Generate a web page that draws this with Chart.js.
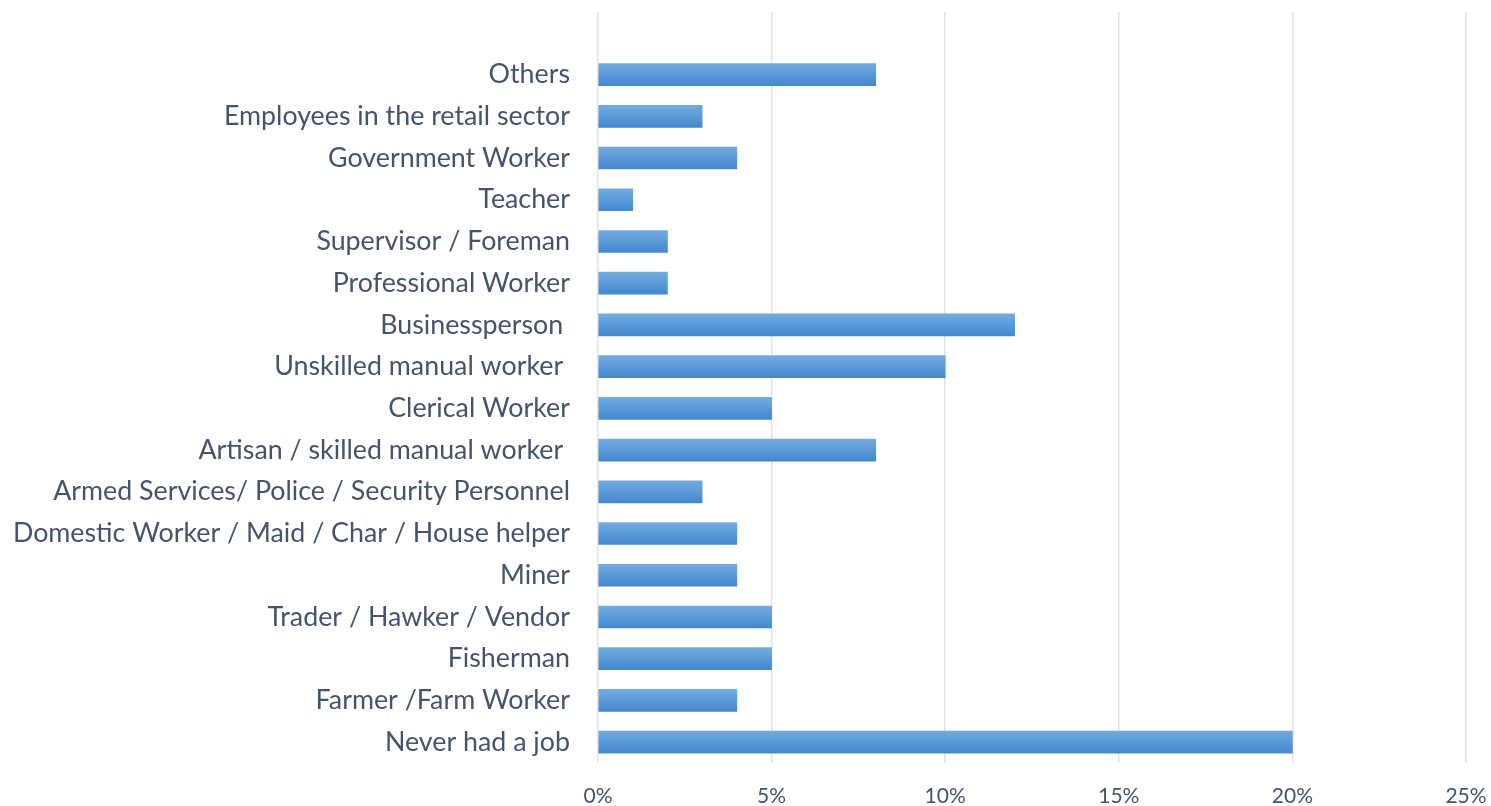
<!DOCTYPE html>
<html>
<head>
<meta charset="utf-8">
<script src="https://cdn.jsdelivr.net/npm/chart.js@4/dist/chart.umd.min.js"></script>
<style>
  html, body { margin: 0; padding: 0; background: #fff; }
  #wrap { width: 1491px; height: 806px; }
</style>
</head>
<body>
<div id="wrap"><canvas id="c" width="1491" height="806"></canvas></div>
<script>
// Occupation categories, top to bottom (first entry is the empty top band)
const categories = [
  "",
  "Others",
  "Employees in the retail sector",
  "Government Worker",
  "Teacher",
  "Supervisor / Foreman",
  "Professional Worker",
  "Businessperson ",
  "Unskilled manual worker ",
  "Clerical Worker",
  "Artisan / skilled manual worker ",
  "Armed Services/ Police / Security Personnel",
  "Domestic Worker / Maid / Char / House helper",
  "Miner",
  "Trader / Hawker / Vendor",
  "Fisherman",
  "Farmer /Farm Worker",
  "Never had a job"
];

// Share of respondents, in percent
const shares = [null, 8, 3, 4, 1, 2, 2, 12, 10, 5, 8, 3, 4, 4, 5, 5, 4, 20];

const xTicks = [0, 5, 10, 15, 20, 25];

const BAR_THICKNESS = 22;
const textColor = "#44546A";

function barFill(ctx) {
  const chart = ctx.chart;
  const yScale = chart.scales.y;
  if (!yScale || ctx.dataIndex === undefined) return "#5b9bd5";
  const cy = yScale.getPixelForValue(ctx.dataIndex);
  if (!isFinite(cy)) return "#5b9bd5";
  const g = chart.ctx.createLinearGradient(0, cy - BAR_THICKNESS / 2, 0, cy + BAR_THICKNESS / 2);
  g.addColorStop(0, "#72abe0");
  g.addColorStop(1, "#4588cf");
  return g;
}

new Chart(document.getElementById("c"), {
  type: "bar",
  data: {
    labels: categories,
    datasets: [{
      data: shares,
      backgroundColor: barFill,
      borderWidth: 0,
      barThickness: BAR_THICKNESS
    }]
  },
  options: {
    indexAxis: "y",
    responsive: false,
    animation: false,
    layout: { padding: { top: 12, right: 25, left: 0, bottom: 0 } },
    plugins: { legend: { display: false }, tooltip: { enabled: false } },
    scales: {
      x: {
        min: 0,
        max: 25,
        afterBuildTicks: (scale) => { scale.ticks = xTicks.map(v => ({ value: v })); },
        afterFit: (scale) => {
          scale.height = 43;
          scale.paddingLeft = 0;
          scale.paddingRight = 0;
        },
        ticks: {
          callback: (v) => v + "%",
          color: textColor,
          font: { family: "Lato", size: 21 },
          padding: 21
        },
        grid: { color: "#dfe4ec", lineWidth: 1.5, drawTicks: false },
        border: { display: false }
      },
      y: {
        afterFit: (scale) => {
          scale.width = 598;
          scale.paddingTop = 0;
          scale.paddingBottom = 0;
        },
        ticks: {
          color: textColor,
          font: { family: "Lato", size: 26.8 },
          padding: 28,
          autoSkip: false
        },
        grid: { display: false, drawTicks: false },
        border: { display: false }
      }
    }
  }
});
</script>
</body>
</html>
